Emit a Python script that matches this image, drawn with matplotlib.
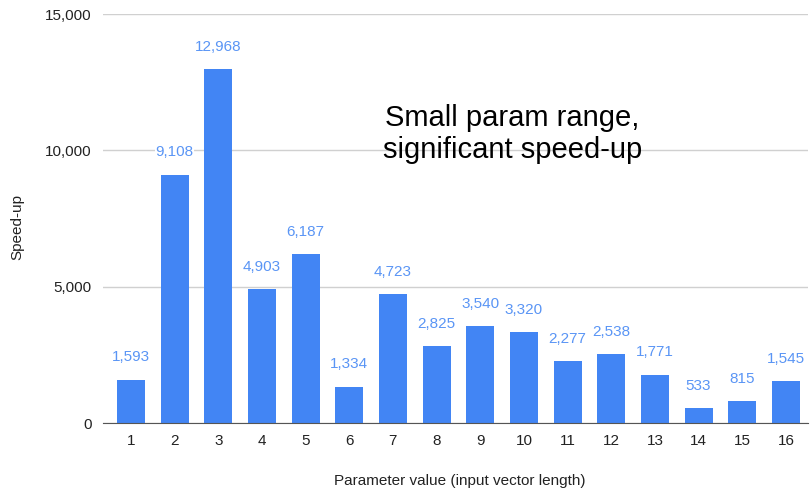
import matplotlib.pyplot as plt
from matplotlib.ticker import FuncFormatter

# speed-up per parameter value
params = list(range(1, 17))
speedup = [1593, 9108, 12968, 4903, 6187, 1334, 4723, 2825,
           3540, 3320, 2277, 2538, 1771, 533, 815, 1545]
yticks = [0, 5000, 10000, 15000]

plt.rcParams['font.family'] = ['Liberation Sans', 'DejaVu Sans']

fig = plt.figure(figsize=(8.11, 4.90), dpi=100)
ax = fig.add_axes([0.127, 0.1367, 0.869, 0.8347])

bar_clr = '#4285F4'
ax.bar(params, speedup, width=0.64, color=bar_clr, zorder=3)

for x, v in zip(params, speedup):
  ax.annotate(f'{v:,}', (x, v), xytext=(0, 11), textcoords='offset points',
              ha='center', va='bottom', fontsize=11, color='#5a95f5', zorder=4,
              bbox=dict(facecolor='white', edgecolor='none', pad=0.5))

ax.set_xlim(0.36, 16.5)
ax.set_ylim(0, 15000)
ax.set_yticks(yticks)
ax.yaxis.set_major_formatter(FuncFormatter(lambda v, p: f'{int(v):,}'))
ax.set_xticks(params)
ax.grid(axis='y', color='#d0d0d0', linewidth=1, zorder=0)
for s in ['top', 'right', 'left']:
  ax.spines[s].set_visible(False)
ax.spines['bottom'].set_color('#555555')
ax.spines['bottom'].set_zorder(5)
ax.tick_params(length=0, labelsize=11, colors='#222222', pad=8)
ax.tick_params(axis='y', pad=8)

fig.text(0.022, 0.537, 'Speed-up', rotation=90, ha='center', va='center',
         fontsize=11, color='#222222')
fig.text(0.567, 0.018, 'Parameter value (input vector length)', ha='center',
         va='center', fontsize=11, color='#222222')
fig.text(0.632, 0.727, 'Small param range,\nsignificant speed-up', ha='center',
         va='center', fontsize=21, color='black', linespacing=1.2,
         zorder=6)

plt.savefig('out.png', dpi=100)
